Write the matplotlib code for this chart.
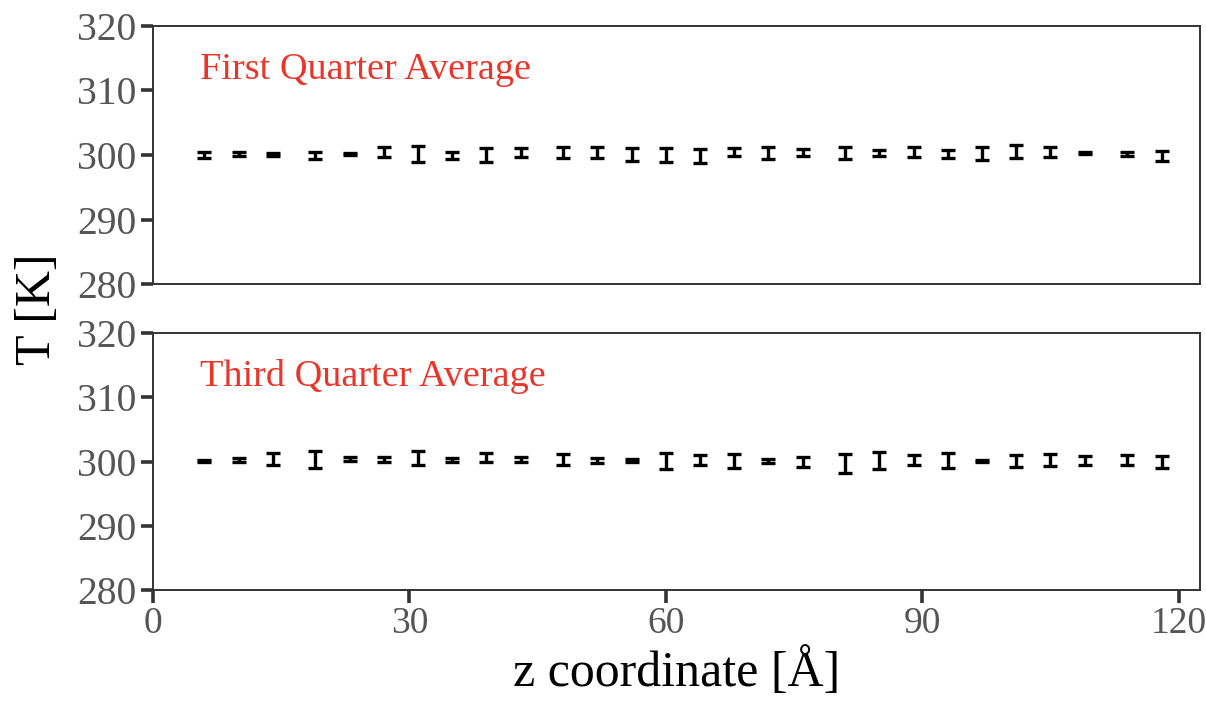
import matplotlib
matplotlib.use("Agg")
import matplotlib.pyplot as plt

# z positions of the bins [Angstrom]
z = [6.0, 10.0, 14.0, 19.0, 23.0, 27.0, 31.0, 35.0, 39.0, 43.0,
     48.0, 52.0, 56.0, 60.0, 64.0, 68.0, 72.0, 76.0, 81.0, 85.0,
     89.0, 93.0, 97.0, 101.0, 105.0, 109.0, 114.0, 118.0]

# first quarter average
t_first = [300.0, 300.1, 300.05, 299.95, 300.1, 300.5, 300.2, 299.9, 300.0, 300.4,
           300.45, 300.45, 300.1, 300.0, 299.9, 300.45, 300.35, 300.4, 300.3, 300.3,
           300.5, 300.2, 300.25, 300.5, 300.45, 300.35, 300.2, 299.85]
err_first = [0.45, 0.3, 0.25, 0.5, 0.15, 0.8, 1.25, 0.5, 1.15, 0.75,
             0.85, 0.85, 1.05, 1.1, 1.1, 0.6, 0.9, 0.55, 0.9, 0.5,
             0.75, 0.65, 1.0, 1.0, 0.75, 0.15, 0.3, 0.8]

# third quarter average
t_third = [300.1, 300.2, 300.4, 300.3, 300.35, 300.3, 300.55, 300.25, 300.65, 300.3,
           300.35, 300.15, 300.1, 300.1, 300.2, 300.1, 300.1, 299.9, 299.7, 300.15,
           300.2, 300.1, 300.05, 300.1, 300.2, 300.15, 300.2, 299.95]
err_third = [0.15, 0.3, 0.9, 1.3, 0.3, 0.35, 1.15, 0.25, 0.75, 0.35,
             0.85, 0.45, 0.25, 1.25, 0.75, 1.05, 0.3, 0.75, 1.45, 1.3,
             0.75, 1.15, 0.15, 0.95, 0.95, 0.75, 0.8, 0.95]

labels = ["First Quarter Average", "Third Quarter Average"]
yticks = [280, 290, 300, 310, 320]
xticks = [0, 30, 60, 90, 120]

plt.rcParams['font.family'] = ['Liberation Serif', 'DejaVu Serif']

fig = plt.figure(figsize=(12.06, 7.02), dpi=100)
ax1 = fig.add_axes([0.1269, 0.5954, 0.8681, 0.3676])
ax2 = fig.add_axes([0.1269, 0.1595, 0.8681, 0.3661])

for ax, t, e, lab in [(ax1, t_first, err_first, labels[0]),
                      (ax2, t_third, err_third, labels[1])]:
    ax.errorbar(z, t, yerr=e, fmt='none', ecolor='black', elinewidth=2.4,
                capsize=5.2, capthick=2.4)
    ax.set_xlim(0, 122.5)
    ax.set_ylim(280, 320)
    ax.set_yticks(yticks)
    ax.set_xticks(xticks)
    for s in ax.spines.values():
        s.set_color('#333333')
        s.set_linewidth(1.4)
    ax.tick_params(axis='both', which='both', direction='out', length=9, width=2.6,
                   color='#333333', labelcolor='#555555',
                   top=False, right=False, pad=3)
    ax.tick_params(axis='y', labelsize=28.5)
    ax.tick_params(axis='x', labelsize=27)
    ax.text(0.045, 0.83, lab, transform=ax.transAxes, color='#e8362b',
            fontsize=27.5, ha='left', va='center')

ax1.tick_params(axis='x', labelbottom=False)
ax1.xaxis.set_ticks([])
ax2.set_xlabel('z coordinate [Å]', fontsize=36, labelpad=5)
fig.text(0.031, 0.56, 'T [K]', rotation=90, fontsize=36, ha='center', va='center')

fig.savefig('out.png', dpi=100)
